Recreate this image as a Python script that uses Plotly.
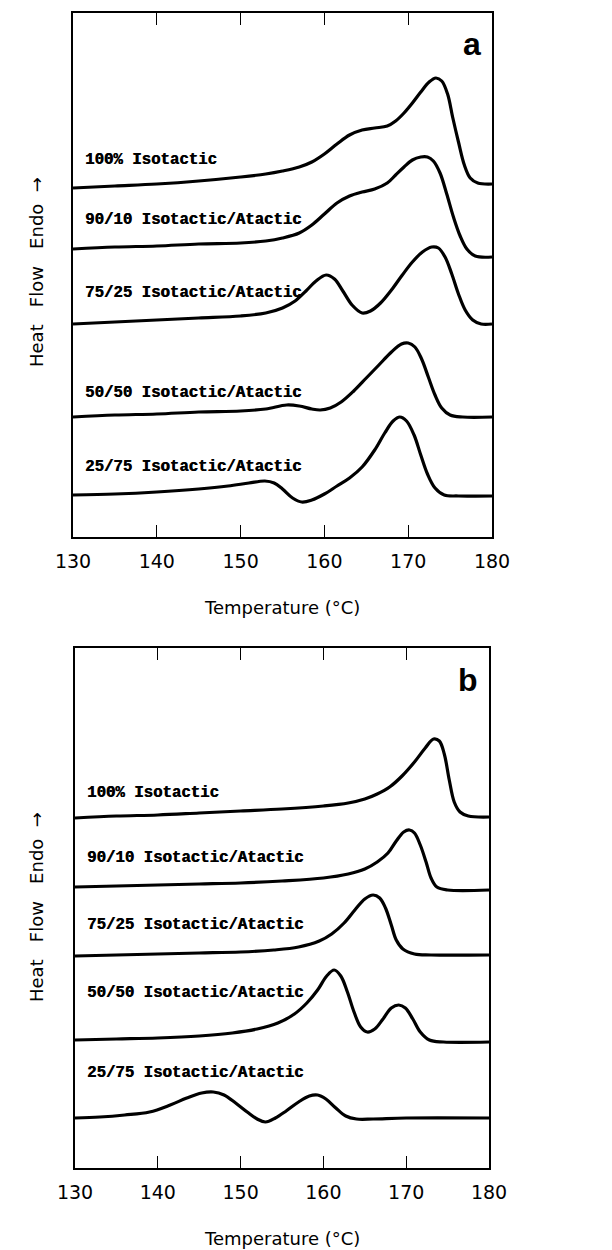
import plotly.graph_objects as go

# ---- DSC melting endotherms, panel a (temperature in degC, heat flow in offset arbitrary units)
a_iso100_T = [130, 135, 140, 145, 150, 153, 155, 157, 158.5, 160, 161.5, 163, 164.5, 166, 167.5, 168.5, 169.5, 170.5, 171.5, 172.5, 173.3, 174, 174.7, 175.3, 176, 176.7, 177.4, 178.3, 180]
a_iso100_H = [34.9, 35.1, 35.3, 35.6, 36.0, 36.3, 36.6, 37.0, 37.5, 38.3, 39.3, 40.2, 40.7, 40.9, 41.1, 41.6, 42.4, 43.4, 44.5, 45.5, 45.9, 45.6, 44.3, 42.0, 39.5, 37.2, 35.9, 35.4, 35.3]

a_9010_T = [130, 135, 140, 145, 150, 153, 155, 157, 158.5, 160, 161.5, 163, 164.5, 166, 167.5, 168.5, 169.5, 170.5, 171.5, 172.3, 173, 173.8, 174.6, 175.4, 176.2, 177, 178, 180]
a_9010_H = [28.8, 29.0, 29.1, 29.3, 29.4, 29.6, 29.9, 30.4, 31.2, 32.3, 33.4, 34.1, 34.5, 34.8, 35.4, 36.2, 37.0, 37.7, 38.0, 38.0, 37.6, 36.4, 34.3, 32.0, 30.1, 28.8, 28.1, 28.0]

a_7525_T = [130, 135, 140, 145, 150, 153, 155, 156.5, 157.8, 159, 160.2, 161.2, 162.2, 163.3, 164.5, 165.5, 166.7, 168, 169.3, 170.5, 171.7, 172.8, 173.6, 174.4, 175.2, 176, 176.8, 177.7, 178.7, 180]
a_7525_H = [21.3, 21.5, 21.7, 21.9, 22.1, 22.4, 22.9, 23.6, 24.6, 25.6, 26.2, 25.8, 24.6, 23.2, 22.4, 22.6, 23.4, 24.7, 26.2, 27.5, 28.5, 29.0, 28.9, 28.0, 26.3, 24.3, 22.7, 21.7, 21.3, 21.3]

a_5050_T = [130, 135, 140, 145, 150, 153, 155.5, 157, 158.5, 159.5, 160.7, 162, 163.5, 165, 166.5, 168, 169.2, 170, 170.8, 171.6, 172.4, 173.2, 174, 175, 176.5, 180]
a_5050_H = [12.0, 12.2, 12.3, 12.5, 12.6, 12.8, 13.2, 13.1, 12.8, 12.7, 12.9, 13.5, 14.6, 15.9, 17.2, 18.5, 19.3, 19.4, 19.0, 17.8, 16.0, 14.2, 12.9, 12.2, 12.0, 12.0]

a_2575_T = [130, 135, 140, 145, 148.5, 151, 152.9, 154, 155, 156.2, 157.3, 158.5, 160, 161.5, 163, 164.5, 166, 167.2, 168.2, 169, 169.8, 170.7, 171.5, 172.3, 173.2, 174.3, 176, 180]
a_2575_H = [4.2, 4.3, 4.5, 4.8, 5.1, 5.4, 5.6, 5.4, 4.8, 3.9, 3.5, 3.7, 4.3, 5.1, 5.9, 7.0, 8.7, 10.4, 11.6, 12.0, 11.6, 10.2, 8.2, 6.3, 4.9, 4.2, 4.1, 4.1]

# ---- panel b
b_iso100_T = [130, 135, 140, 145, 150, 155, 160, 163, 165, 166.5, 168, 169.5, 171, 172.3, 173.3, 174, 174.6, 175.2, 175.8, 176.5, 177.5, 180]
b_iso100_H = [35.0, 35.2, 35.3, 35.5, 35.7, 35.9, 36.2, 36.5, 36.9, 37.4, 38.1, 39.2, 40.6, 42.0, 42.9, 42.7, 41.4, 38.8, 36.6, 35.6, 35.2, 35.1]

b_9010_T = [130, 135, 140, 145, 150, 155, 160, 163, 165, 166.5, 167.8, 168.8, 169.7, 170.4, 171, 171.7, 172.4, 173, 173.7, 175, 180]
b_9010_H = [28.1, 28.2, 28.3, 28.4, 28.5, 28.7, 29.0, 29.4, 29.9, 30.6, 31.5, 32.7, 33.6, 33.8, 33.5, 32.3, 30.6, 29.0, 28.1, 27.8, 27.8]

b_7525_T = [130, 135, 140, 145, 150, 154, 157, 159.5, 161, 162.5, 163.8, 165, 166, 166.8, 167.5, 168.2, 168.8, 169.6, 171, 173, 180]
b_7525_H = [21.2, 21.3, 21.4, 21.5, 21.6, 21.8, 22.1, 22.7, 23.4, 24.5, 25.8, 26.9, 27.3, 27.0, 26.0, 24.3, 22.8, 21.9, 21.4, 21.3, 21.3]

b_5050_T = [130, 135, 140, 145, 149, 152, 154.5, 156.5, 158, 159.3, 160.4, 161.3, 162.1, 162.9, 163.7, 164.5, 165.3, 166.2, 167.2, 168.2, 169.1, 169.9, 170.8, 171.7, 172.8, 174.5, 180]
b_5050_H = [12.8, 12.9, 13.0, 13.2, 13.5, 13.9, 14.5, 15.4, 16.5, 17.8, 19.2, 19.8, 19.2, 17.6, 15.6, 14.1, 13.6, 13.9, 14.9, 16.0, 16.3, 16.0, 14.9, 13.6, 12.8, 12.6, 12.6]

b_2575_T = [130, 133, 136, 139, 141.5, 143.5, 145.3, 146.7, 148, 149.4, 150.8, 152, 153, 154.2, 155.5, 157, 158.3, 159.3, 160.3, 161.5, 162.7, 164, 166, 170, 180]
b_2575_H = [5.0, 5.1, 5.3, 5.6, 6.3, 7.0, 7.5, 7.6, 7.3, 6.5, 5.6, 4.9, 4.6, 5.0, 5.7, 6.6, 7.2, 7.3, 6.9, 6.0, 5.2, 4.9, 4.9, 5.0, 5.0]

blend_labels = ["100% Isotactic", "90/10 Isotactic/Atactic", "75/25 Isotactic/Atactic",
                "50/50 Isotactic/Atactic", "25/75 Isotactic/Atactic"]
label_levels_a = [37.7, 31.7, 24.4, 14.4, 7.0]
label_levels_b = [37.5, 31.0, 24.3, 17.5, 9.5]

panel_a = [(a_iso100_T, a_iso100_H), (a_9010_T, a_9010_H), (a_7525_T, a_7525_H),
           (a_5050_T, a_5050_H), (a_2575_T, a_2575_H)]
panel_b = [(b_iso100_T, b_iso100_H), (b_9010_T, b_9010_H), (b_7525_T, b_7525_H),
           (b_5050_T, b_5050_H), (b_2575_T, b_2575_H)]

W, H = 612, 1250
fig = go.Figure()

curve_line = dict(color="black", width=3.2, shape="spline", smoothing=1.0)
for T, Q in panel_a:
    fig.add_trace(go.Scatter(x=T, y=Q, mode="lines", line=curve_line, xaxis="x", yaxis="y",
                             showlegend=False, hoverinfo="skip"))
for T, Q in panel_b:
    fig.add_trace(go.Scatter(x=T, y=Q, mode="lines", line=curve_line, xaxis="x2", yaxis="y2",
                             showlegend=False, hoverinfo="skip"))

tick_font = dict(family="DejaVu Sans", size=19, color="black")
xcommon = dict(range=[130, 180], dtick=10, tick0=130, ticks="inside", ticklen=12, tickwidth=1.4,
               tickcolor="black", showline=True, linecolor="black", linewidth=1.6,
               mirror="allticks", showgrid=False, zeroline=False, tickfont=tick_font,
               ticklabelstandoff=6, automargin=False)
ycommon = dict(showline=True, linecolor="black", linewidth=1.6, mirror=True, ticks="",
               showticklabels=False, showgrid=False, zeroline=False, automargin=False)

fig.update_layout(
    width=W, height=H,
    margin=dict(l=0, r=0, t=0, b=0, autoexpand=False),
    paper_bgcolor="white", plot_bgcolor="white",
    xaxis=dict(domain=[73 / W, 492 / W], anchor="y", **xcommon),
    yaxis=dict(domain=[1 - 537 / H, 1 - 13 / H], range=[0, 52.4], anchor="x", **ycommon),
    xaxis2=dict(domain=[75 / W, 489 / W], anchor="y2", **xcommon),
    yaxis2=dict(domain=[1 - 1168 / H, 1 - 648 / H], range=[0, 52.0], anchor="x2", **ycommon),
)

label_font = dict(family="Liberation Mono", size=15.7, color="black", weight="bold",
                  shadow="0.6px 0px 0px black")
annotations = []
for text, lvl in zip(blend_labels, label_levels_a):
    annotations.append(dict(x=131.2, y=lvl, xref="x", yref="y", text=text, showarrow=False,
                            xanchor="left", yanchor="middle", font=label_font))
for text, lvl in zip(blend_labels, label_levels_b):
    annotations.append(dict(x=131.2, y=lvl, xref="x2", yref="y2", text=text, showarrow=False,
                            xanchor="left", yanchor="middle", font=label_font))

letter_font = dict(family="Liberation Sans", size=32, color="black", weight="bold")
annotations.append(dict(x=177.6, y=49.3, xref="x", yref="y", text="a", showarrow=False,
                        xanchor="center", yanchor="middle", font=letter_font))
annotations.append(dict(x=177.5, y=48.8, xref="x2", yref="y2", text="b", showarrow=False,
                        xanchor="center", yanchor="middle", font=letter_font))

title_font = dict(family="DejaVu Sans", size=18, color="black")
ytitle = "Heat\u00a0\u00a0\u00a0Flow\u00a0\u00a0\u00a0Endo\u00a0\u00a0→"
for yc in (272, 907):
    annotations.append(dict(x=36 / W, y=1 - yc / H, xref="paper", yref="paper", text=ytitle,
                            textangle=-90, showarrow=False, xanchor="center", yanchor="middle",
                            font=title_font))
for xc, yc in ((282, 608), (282, 1238)):
    annotations.append(dict(x=xc / W, y=1 - yc / H, xref="paper", yref="paper",
                            text="Temperature (°C)", showarrow=False, xanchor="center",
                            yanchor="middle", font=title_font))

fig.update_layout(annotations=annotations)
fig.write_html("out.html")
